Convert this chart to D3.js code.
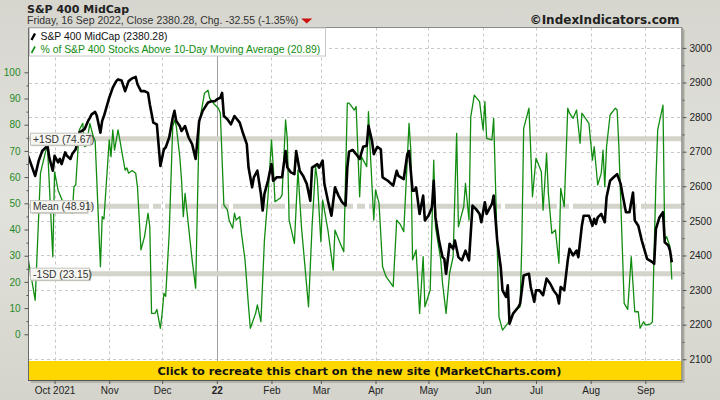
<!DOCTYPE html>
<html><head><meta charset="utf-8">
<script src="https://cdn.jsdelivr.net/npm/d3@7"></script>
<style>body{margin:0;background:#dcdcd5;}svg{display:block}</style>
</head><body><svg id="chart" width="720" height="400"></svg>
<script>
// ---------- DATA ----------
const pctDates = ["2021-09-16","2021-09-20","2021-09-23","2021-09-26","2021-09-27","2021-09-28","2021-09-30",
"2021-10-01","2021-10-03","2021-10-06","2021-10-08","2021-10-11","2021-10-12","2021-10-13","2021-10-15","2021-10-17","2021-10-18","2021-10-19","2021-10-21","2021-10-23","2021-10-24","2021-10-27","2021-10-28","2021-10-29",
"2021-11-01","2021-11-02","2021-11-03","2021-11-04","2021-11-06","2021-11-07","2021-11-09","2021-11-10","2021-11-11","2021-11-12","2021-11-14","2021-11-16","2021-11-17","2021-11-19","2021-11-21","2021-11-23","2021-11-24","2021-11-25","2021-11-27","2021-11-28","2021-11-30",
"2021-12-01","2021-12-02","2021-12-03","2021-12-05","2021-12-07","2021-12-08","2021-12-09","2021-12-11","2021-12-12","2021-12-13","2021-12-14","2021-12-16","2021-12-18","2021-12-20","2021-12-22","2021-12-25","2021-12-27","2021-12-28","2021-12-31",
"2022-01-02","2022-01-03","2022-01-05","2022-01-07","2022-01-08","2022-01-10","2022-01-11","2022-01-12","2022-01-14","2022-01-15","2022-01-17","2022-01-19","2022-01-20","2022-01-23","2022-01-24","2022-01-26","2022-01-28","2022-01-30",
"2022-02-01","2022-02-02","2022-02-03","2022-02-06","2022-02-07","2022-02-09","2022-02-10","2022-02-11","2022-02-14","2022-02-16","2022-02-18","2022-02-22","2022-02-24","2022-02-26","2022-02-27",
"2022-03-01","2022-03-02","2022-03-05","2022-03-08","2022-03-09","2022-03-12","2022-03-14","2022-03-16","2022-03-17","2022-03-20","2022-03-21","2022-03-23","2022-03-24","2022-03-27","2022-03-28","2022-03-29","2022-03-31",
"2022-04-01","2022-04-03","2022-04-05","2022-04-07","2022-04-11","2022-04-13","2022-04-15","2022-04-17","2022-04-20","2022-04-21","2022-04-22","2022-04-24","2022-04-26","2022-04-28","2022-04-29",
"2022-05-02","2022-05-04","2022-05-05","2022-05-08","2022-05-09","2022-05-11","2022-05-13","2022-05-15","2022-05-17","2022-05-18","2022-05-19","2022-05-21","2022-05-22","2022-05-24","2022-05-25","2022-05-27","2022-05-30",
"2022-06-01","2022-06-02","2022-06-03","2022-06-06","2022-06-07","2022-06-09","2022-06-10","2022-06-12","2022-06-15","2022-06-18","2022-06-20","2022-06-22","2022-06-23","2022-06-24","2022-06-27","2022-06-28","2022-06-29",
"2022-07-01","2022-07-04","2022-07-05","2022-07-07","2022-07-08","2022-07-10","2022-07-12","2022-07-14","2022-07-15","2022-07-17","2022-07-19","2022-07-20","2022-07-22","2022-07-24","2022-07-26","2022-07-27","2022-07-31",
"2022-08-02","2022-08-03","2022-08-05","2022-08-07","2022-08-08","2022-08-09","2022-08-10","2022-08-12","2022-08-15","2022-08-16","2022-08-17","2022-08-20","2022-08-22","2022-08-24","2022-08-26","2022-08-28","2022-08-29","2022-08-31",
"2022-09-01","2022-09-04","2022-09-05","2022-09-07","2022-09-08","2022-09-11","2022-09-12","2022-09-13","2022-09-15","2022-09-16"];
const pctValues = [29,13,61.5,70,71.6,57.6,29.6,
62,55,50,48,46.2,56.3,57,78,80.5,71.6,72,80.5,75.4,74,25.8,44.9,44,
74.2,67.8,78,70.3,78,74.2,66.5,62.7,63.5,61.5,62.5,61.5,56.3,32.2,37.3,46.2,41,8,8,9.5,2.3,
8,15.6,14.5,38.5,79.2,81.8,79.5,67.8,58.9,44.9,53.8,41,28.4,17.6,80.5,92,93.2,90,87.5,
86.2,84.4,49.4,47.5,43.5,40.5,46.2,43.6,44.9,38.5,28.4,10.5,2.3,8,11.2,4.8,36,52.5,
74.2,64,50.6,52,53.2,81.8,74.2,43.6,34.7,62.7,41,10.5,41,64,58.9,
35.3,51.3,39.8,24.5,39.8,34.7,31.5,88.2,88.2,85.6,86.9,52.5,67.8,64,85,70,43.6,
55.1,50,25.8,22,18.2,43.6,42,39.2,80.5,70.3,28.4,32.2,8,29.6,10.5,
16.9,66.5,41,28.4,19.5,8,23.3,29.6,76.7,41,43.6,48.7,57.6,43.6,83,91.3,88.8,
78,88.8,74.8,74.2,82.4,33.4,6.7,1.6,4.2,8,9.5,10.5,36,78.6,86.3,70.3,52.5,
67.2,62.1,47.4,69,53.8,38.5,39.8,27.1,55.7,48.7,86.3,84.4,82.4,85.6,72.9,84.4,80.5,
66.5,71.6,57,61.5,70.3,56.3,71.6,83.7,86.3,85.6,71.6,11.8,9.5,29.6,8.6,8.6,2.3,4.8,
3.5,4,4.8,58.9,78,87.5,36,37.3,33.4,20.89];

const priceDates = ["2021-09-16","2021-09-20","2021-09-22","2021-09-24","2021-09-26","2021-09-27","2021-09-28","2021-09-30",
"2021-10-01","2021-10-03","2021-10-04","2021-10-05","2021-10-07","2021-10-08","2021-10-10","2021-10-11","2021-10-13","2021-10-15","2021-10-18","2021-10-20","2021-10-21","2021-10-22","2021-10-24","2021-10-25","2021-10-27","2021-10-28","2021-10-29",
"2021-11-01","2021-11-03","2021-11-05","2021-11-06","2021-11-08","2021-11-10","2021-11-12","2021-11-14","2021-11-16","2021-11-17","2021-11-19","2021-11-21","2021-11-23","2021-11-24","2021-11-26","2021-11-28","2021-11-30",
"2021-12-02","2021-12-03","2021-12-05","2021-12-07","2021-12-08","2021-12-09","2021-12-11","2021-12-12","2021-12-14","2021-12-16","2021-12-18","2021-12-20","2021-12-22","2021-12-24","2021-12-27","2021-12-29","2021-12-31",
"2022-01-01","2022-01-03","2022-01-04","2022-01-05","2022-01-07","2022-01-09","2022-01-11","2022-01-14","2022-01-16","2022-01-18","2022-01-19","2022-01-21","2022-01-22","2022-01-24","2022-01-26","2022-01-27","2022-01-28","2022-01-30",
"2022-02-01","2022-02-02","2022-02-04","2022-02-07","2022-02-09","2022-02-10","2022-02-12","2022-02-14","2022-02-15","2022-02-17","2022-02-19","2022-02-21","2022-02-23","2022-02-24","2022-02-27","2022-02-28",
"2022-03-02","2022-03-03","2022-03-05","2022-03-07","2022-03-09","2022-03-11","2022-03-13","2022-03-15","2022-03-16","2022-03-17","2022-03-19","2022-03-21","2022-03-23","2022-03-25","2022-03-27","2022-03-28","2022-03-30","2022-03-31",
"2022-04-02","2022-04-04","2022-04-05","2022-04-08","2022-04-11","2022-04-13","2022-04-14","2022-04-17","2022-04-19","2022-04-20","2022-04-22","2022-04-23","2022-04-24","2022-04-26","2022-04-28","2022-04-29",
"2022-05-01","2022-05-03","2022-05-04","2022-05-05","2022-05-07","2022-05-09","2022-05-10","2022-05-11","2022-05-13","2022-05-15","2022-05-16","2022-05-18","2022-05-19","2022-05-20","2022-05-22","2022-05-24","2022-05-26","2022-05-28","2022-05-30","2022-05-31",
"2022-06-02","2022-06-03","2022-06-06","2022-06-07","2022-06-09","2022-06-11","2022-06-12","2022-06-14","2022-06-15","2022-06-16","2022-06-18","2022-06-21","2022-06-22","2022-06-24","2022-06-27","2022-06-28","2022-06-30",
"2022-07-01","2022-07-03","2022-07-05","2022-07-07","2022-07-09","2022-07-11","2022-07-13","2022-07-14","2022-07-15","2022-07-17","2022-07-19","2022-07-20","2022-07-22","2022-07-24","2022-07-25","2022-07-27","2022-07-28","2022-07-31",
"2022-08-02","2022-08-03","2022-08-04","2022-08-05","2022-08-07","2022-08-09","2022-08-10","2022-08-12","2022-08-14","2022-08-16","2022-08-18","2022-08-19","2022-08-21","2022-08-23","2022-08-25","2022-08-26","2022-08-28","2022-08-30",
"2022-09-02","2022-09-05","2022-09-06","2022-09-07","2022-09-09","2022-09-11","2022-09-12","2022-09-14","2022-09-15","2022-09-16"];
const priceValues = [2688,2630,2674,2702,2712,2717,2683,2645,
2688,2669,2679,2664,2698,2688,2679,2693,2707,2755,2765,2789,2798,2808,2815,2803,2755,2789,2803,
2856,2885,2904,2909,2906,2875,2904,2912,2916,2895,2875,2875,2870,2837,2784,2779,2659,
2707,2712,2741,2798,2818,2789,2774,2760,2774,2741,2722,2679,2789,2818,2842,2846,2846,
2851,2856,2870,2803,2794,2779,2803,2784,2751,2722,2654,2597,2626,2645,2578,2530,2578,2616,
2664,2616,2626,2626,2702,2654,2640,2635,2702,2645,2630,2607,2558,2654,2664,2654,
2674,2607,2558,2515,2597,2573,2554,2544,2654,2700,2705,2693,2679,2714,2717,2775,2731,2693,
2714,2707,2626,2616,2602,2645,2630,2621,2693,2702,2587,2587,2597,2520,2573,2501,
2515,2539,2616,2510,2443,2395,2390,2347,2434,2419,2443,2395,2390,2386,2414,2386,2544,2534,2520,2496,
2554,2520,2549,2573,2443,2366,2299,2280,2314,2203,2232,2251,2261,2342,2347,2309,2266,
2299,2299,2285,2333,2319,2299,2285,2261,2309,2299,2386,2419,2400,2414,2395,2486,2515,2515,
2486,2506,2491,2510,2520,2496,2568,2616,2626,2635,2607,2578,2525,2525,2582,2501,2486,2443,
2390,2381,2376,2477,2510,2525,2438,2429,2414,2380.28];

const pctTicks = [0,10,20,30,40,50,60,70,80,90,100];
const pctMinorTicks = [5,15,25,35,45,55,65,75,85,95];
const priceTicks = [2100,2200,2300,2400,2500,2600,2700,2800,2900,3000];
const priceMinorTicks = [2150,2250,2350,2450,2550,2650,2750,2850,2950];
const monthTickDates = ["2021-10-01","2021-11-01","2021-12-01","2022-01-01","2022-02-01","2022-03-01","2022-04-01","2022-05-01","2022-06-01","2022-07-01","2022-08-01","2022-09-01"];
const monthLabels = ["Oct 2021","Nov","Dec","22","Feb","Mar","Apr","May","Jun","Jul","Aug","Sep"];
const bandValues = [74.67, 48.91, 23.15];
const bandLabels = ["+1SD (74.67)", "Mean (48.91)", "-1SD (23.15)"];
const titleText = "S&P 400 MidCap";
const subtitleText = "Friday, 16 Sep 2022, Close 2380.28, Chg. -32.55 (-1.35%)";
const legendLabels = ["S&P 400 MidCap (2380.28)", "% of S&P 400 Stocks Above 10-Day Moving Average (20.89)"];
const creditText = "\u00A9IndexIndicators.com";
const bannerText = "Click to recreate this chart on the new site (MarketCharts.com)";

// ---------- SETUP ----------
const parse = d3.timeParse("%Y-%m-%d");
const W = 720, H = 400;
const L = 29, R = 681.5, T = 27.5, B = 380;
const svg = d3.select("#chart");
const FONT = "'Liberation Sans', Arial, sans-serif";
const VFONT = "'DejaVu Sans', Verdana, sans-serif";

const x = d3.scaleTime().domain([new Date(2021,8,16,12), new Date(2022,8,21,12)]).range([L, R]);
const yPct = d3.scaleLinear().domain([-17.44, 117.1]).range([B, T]);
const yPrice = d3.scaleLinear().domain([2040, 3059]).range([B, T]);

const pctData = pctDates.map((d,i)=>({date:parse(d), value:pctValues[i]}));
const priceData = priceDates.map((d,i)=>({date:parse(d), value:priceValues[i]}));

const defs = svg.append("defs");
const bg = defs.append("linearGradient").attr("id","bg").attr("x1",0).attr("y1",0).attr("x2",0).attr("y2",1);
bg.append("stop").attr("offset","0%").attr("stop-color","#d6d6cf");
bg.append("stop").attr("offset","50%").attr("stop-color","#e2e2dc");
bg.append("stop").attr("offset","100%").attr("stop-color","#d4d4cc");
defs.append("clipPath").attr("id","plotclip").append("rect").attr("x",L).attr("y",T).attr("width",R-L).attr("height",B-T);

svg.append("rect").attr("width",W).attr("height",H).attr("fill","url(#bg)");
svg.append("rect").attr("x",L).attr("y",T).attr("width",R-L).attr("height",B-T).attr("fill","#ffffff");

const plot = svg.append("g").attr("clip-path","url(#plotclip)");

// grid
plot.selectAll("line.hgrid").data(priceTicks).join("line").attr("class","hgrid")
  .attr("x1",L).attr("x2",R).attr("y1",d=>Math.round(yPrice(d))+0.5).attr("y2",d=>Math.round(yPrice(d))+0.5)
  .attr("stroke","#c8c8c8").attr("stroke-dasharray","3,3");
plot.selectAll("line.vgrid").data(monthTickDates).join("line").attr("class","vgrid")
  .attr("x1",d=>Math.round(x(parse(d)))+0.5).attr("x2",d=>Math.round(x(parse(d)))+0.5).attr("y1",T).attr("y2",B)
  .attr("stroke",(d,i)=>monthLabels[i]==="22"?"#a0a0a0":"#c8c8c8")
  .attr("stroke-dasharray",(d,i)=>monthLabels[i]==="22"?null:"3,3");

// SD bands
plot.selectAll("line.band").data(bandValues).join("line").attr("class","band")
  .attr("x1",L).attr("x2",R).attr("y1",d=>yPct(d)).attr("y2",d=>yPct(d))
  .attr("stroke","#d4d4cb").attr("stroke-width",5)
  .attr("stroke-dasharray",(d,i)=>i===1?"52,4,8,4":null);

// lines
plot.append("path").datum(pctData)
  .attr("d", d3.line().x(d=>x(d.date)).y(d=>yPct(d.value)))
  .attr("fill","none").attr("stroke","#118c11").attr("stroke-width",1.3).attr("stroke-linejoin","round");
plot.append("path").datum(priceData)
  .attr("d", d3.line().x(d=>x(d.date)).y(d=>yPrice(d.value)))
  .attr("fill","none").attr("stroke","#000").attr("stroke-width",2.6).attr("stroke-linejoin","round");

// band labels
const bl = svg.selectAll("g.blabel").data(bandValues).join("g").attr("class","blabel")
  .attr("transform",d=>`translate(30,${yPct(d)})`);
bl.append("rect").attr("x",1.5).attr("y",-4.5).attr("width",(d,i)=>[60,57,59][i]).attr("height",12).attr("fill","#b8b8b0");
bl.append("rect").attr("x",0.5).attr("y",-5.5).attr("width",(d,i)=>[60,57,59][i]).attr("height",12)
  .attr("fill","#f6f6f2").attr("stroke","#c4c4bc");
bl.append("text").attr("x",3).attr("y",4).attr("font-family",FONT).attr("font-size",10.3).attr("fill","#333")
  .text((d,i)=>bandLabels[i]);

// frame
svg.append("line").attr("x1",L-0.5).attr("x2",L-0.5).attr("y1",T).attr("y2",B).attr("stroke","#6a6a6a");
svg.append("line").attr("x1",L).attr("x2",R).attr("y1",T).attr("y2",T).attr("stroke","#8a8a8a");

// banner
svg.append("rect").attr("x",L).attr("y",361).attr("width",R-L).attr("height",B-361).attr("fill","#ffd700");
svg.append("text").attr("x",359.5).attr("y",375).attr("text-anchor","middle")
  .attr("font-family",VFONT).attr("font-weight","bold").attr("font-size",11.3).attr("fill","#111").text(bannerText);

svg.append("line").attr("x1",R+0.5).attr("x2",R+0.5).attr("y1",T).attr("y2",B+1).attr("stroke","#555");
svg.append("rect").attr("x",R+1).attr("y",T+2).attr("width",2).attr("height",B-T+1).attr("fill","#a9a9a2");
svg.append("line").attr("x1",L-1).attr("x2",R+1).attr("y1",B+0.5).attr("y2",B+0.5).attr("stroke","#555");
svg.append("rect").attr("x",L+2).attr("y",B+1).attr("width",R-L).attr("height",2).attr("fill","#b4b4ac");

// axes
function styleAxis(g, color){
  g.select(".domain").remove();
  g.selectAll(".tick line").attr("stroke","#555");
  g.selectAll(".tick text").attr("font-family",FONT).attr("font-size",10).attr("fill",color);
}
const gl = svg.append("g").attr("transform",`translate(${L-0.5},0)`)
  .call(d3.axisLeft(yPct).tickValues(pctTicks).tickSize(4).tickPadding(4).tickFormat(d3.format("d")));
styleAxis(gl,"#1f8a1f");
const glm = svg.append("g").attr("transform",`translate(${L-0.5},0)`)
  .call(d3.axisLeft(yPct).tickValues(pctMinorTicks).tickSize(2).tickFormat(""));
styleAxis(glm,"#1f8a1f");

const gr = svg.append("g").attr("transform",`translate(${R+1},0)`)
  .call(d3.axisRight(yPrice).tickValues(priceTicks).tickSize(4).tickPadding(3).tickFormat(d3.format("d")));
styleAxis(gr,"#222");
const grm = svg.append("g").attr("transform",`translate(${R+1},0)`)
  .call(d3.axisRight(yPrice).tickValues(priceMinorTicks).tickSize(2).tickFormat(""));
styleAxis(grm,"#222");

const gb = svg.append("g").attr("transform",`translate(0,${B})`)
  .call(d3.axisBottom(x).tickValues(monthTickDates.map(parse)).tickSize(4).tickPadding(3)
    .tickFormat((d,i)=>monthLabels[i]));
styleAxis(gb,"#222");
gb.selectAll(".tick text").attr("font-weight",(d,i)=>monthLabels[i]==="22"?"bold":"normal");

// legend
const lg = svg.append("g");
lg.append("rect").attr("x",L+0.5).attr("y",T+0.5).attr("width",296).attr("height",28).attr("fill","#fff").attr("stroke","#c8c8c8");
lg.append("line").attr("x1",31.5).attr("y1",40).attr("x2",35).attr("y2",33.5).attr("stroke","#000").attr("stroke-width",2.4);
lg.append("line").attr("x1",31.5).attr("y1",53).attr("x2",35).attr("y2",46.5).attr("stroke","#118c11").attr("stroke-width",1.6);
lg.append("text").attr("x",40.5).attr("y",39.5).attr("font-family",FONT).attr("font-size",10.4).attr("fill","#111").text(legendLabels[0]);
lg.append("text").attr("x",40.5).attr("y",52.5).attr("font-family",FONT).attr("font-size",10.4).attr("fill","#118c11").text(legendLabels[1]);

// titles
svg.append("text").attr("x",27).attr("y",12.5).attr("font-family",VFONT).attr("font-weight","bold").attr("font-size",11).attr("fill","#222").text(titleText);
const sub = svg.append("text").attr("x",27).attr("y",24).attr("font-family",FONT).attr("font-size",10.5).attr("fill","#333").text(subtitleText);
const sw = sub.node().getComputedTextLength();
svg.append("path").attr("d",`M${27+sw+3},18.5 L${27+sw+14},18.5 L${27+sw+8.5},23.5 Z`).attr("fill","#cc1111");
svg.append("text").attr("x",679.5).attr("y",23.5).attr("text-anchor","end").attr("font-family",VFONT).attr("font-weight","bold").attr("font-size",12).attr("fill","#222").text(creditText);
</script></body></html>
